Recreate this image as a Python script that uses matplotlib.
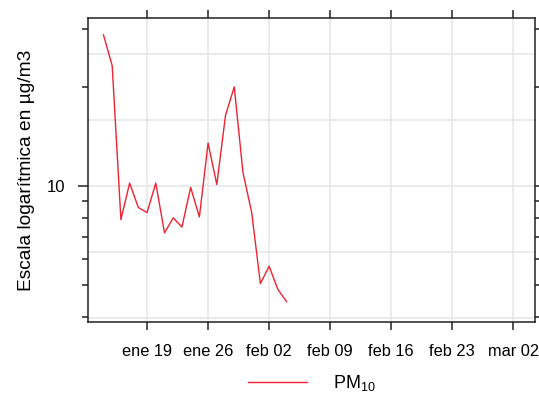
import datetime as dt

import matplotlib
matplotlib.use("Agg")
import matplotlib.pyplot as plt
import numpy as np

# daily PM10 values (ug/m3)
start = dt.datetime(2011, 1, 14)
pm10 = [28.8, 23.2, 7.9, 10.2, 8.6, 8.3, 10.2, 7.2, 8.0, 7.5, 9.9,
        8.05, 13.5, 10.1, 16.4, 20.0, 11.0, 8.3, 5.05, 5.7, 4.85, 4.45]
dates = [start + dt.timedelta(days=i) for i in range(len(pm10))]

tick_dates = [dt.datetime(2011, 1, 19), dt.datetime(2011, 1, 26),
              dt.datetime(2011, 2, 2), dt.datetime(2011, 2, 9),
              dt.datetime(2011, 2, 16), dt.datetime(2011, 2, 23),
              dt.datetime(2011, 3, 2)]
tick_labels = ["ene 19", "ene 26", "feb 02", "feb 09",
               "feb 16", "feb 23", "mar 02"]

y_major = [10]
y_minor = [4, 5, 6, 7, 8, 9, 20, 30]
y_grid = 10 ** np.array([0.6, 0.8, 1.0, 1.2, 1.4])

plt.rcParams["font.family"] = ["Liberation Sans", "DejaVu Sans"]
plt.rcParams["mathtext.default"] = "regular"

fig = plt.figure(figsize=(5.39, 3.96), dpi=100)
ax = fig.add_axes([0.163, 0.187, 0.8296, 0.7675])

line, = ax.plot(dates, pm10, color="#ee2233", lw=1.0, zorder=3)

ax.set_yscale("log")
ax.set_ylim(3.86, 32.4)
ax.set_xlim(dt.datetime(2011, 1, 12, 5), dt.datetime(2011, 3, 4, 12))

# grid lines of the lattice panel
for v in y_grid:
    ax.axhline(v, color="#e6e6e6", lw=1.1, zorder=1)
for d in tick_dates:
    ax.axvline(d, color="#e6e6e6", lw=1.1, zorder=1)

ax.set_xticks(tick_dates)
ax.set_xticklabels(tick_labels)
ax.set_yticks(y_major)
ax.set_yticklabels(["10"])
ax.set_yticks(y_minor, minor=True)
ax.yaxis.set_minor_formatter(plt.NullFormatter())
ax.xaxis.set_minor_locator(plt.NullLocator())

ax.tick_params(axis="x", which="major", direction="out", length=6,
               width=1.1, pad=10, labelsize=11.8, top=True, color="#222222")
ax.tick_params(axis="y", which="major", direction="out", length=7,
               width=1.1, pad=9, labelsize=12, right=True, color="#222222")
ax.tick_params(axis="y", which="minor", direction="out", length=4.5,
               width=1.1, right=True, color="#222222")

for s in ax.spines.values():
    s.set_linewidth(1.1)
    s.set_color("#222222")

ax.set_ylabel("Escala logarítmica en µg/m3", fontsize=13.8, labelpad=9)

fig.legend([line], ["PM$_{10}$"], loc="center", frameon=False,
           bbox_to_anchor=(0.578, 0.033), fontsize=13,
           handlelength=3.3, handletextpad=1.4)

fig.savefig("out.png", dpi=100)
